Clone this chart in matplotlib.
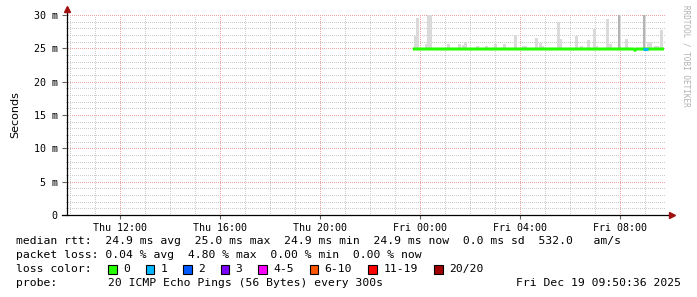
import matplotlib
matplotlib.use('Agg')
import matplotlib.pyplot as plt
from matplotlib.patches import Rectangle

# time axis in hours relative to Fri 00:00, values in ms
x_start = -14.157
x_end = 9.843
tick_pos = [-12, -8, -4, 0, 4, 8]
tick_labels = ['Thu 12:00', 'Thu 16:00', 'Thu 20:00', 'Fri 00:00', 'Fri 04:00', 'Fri 08:00']

# smoke samples (start hour, top of smoke in ms)
smoke_t = [-0.24, -0.16, 0.20, 0.29, 0.37, 1.07, 1.51, 1.69, 1.76, 2.24, 2.61, 2.96,
           3.33, 3.76, 4.07, 4.16, 4.59, 4.75, 4.84, 5.47, 5.57, 6.20, 6.40, 6.67,
           6.91, 7.00, 7.43, 7.57, 7.93, 8.20, 8.93, 9.07, 9.16, 9.36, 9.44, 9.60]
smoke_top = [26.9, 29.6, 25.6, 30.0, 30.0, 25.6, 25.6, 25.5, 25.9, 25.3, 25.3, 25.6,
             25.6, 27.0, 25.4, 25.4, 26.6, 25.85, 25.4, 28.9, 26.4, 26.9, 25.3, 26.3,
             27.9, 25.4, 29.4, 25.6, 30.0, 26.4, 30.0, 26.0, 26.0, 25.4, 25.4, 27.7]
# darker smoke (many pings high)
dark_t = [7.93, 8.93]
dark_top = [30.0, 30.0]

# median rtt
med_t = [-0.29, 8.55, 8.60, 8.65, 9.76]
med_v = [24.9, 24.9, 24.7, 24.9, 24.9]
loss1_t = [8.93, 9.10]
loss1_v = [24.9, 24.9]

loss_labels = ['0', '1', '2', '3', '4-5', '6-10', '11-19', '20/20']
loss_colors = ['#26ff00', '#00b8ff', '#0059ff', '#7e00ff', '#ff00ff', '#ff5500', '#ff0000', '#a10000']

W, H = 697, 297
fig = plt.figure(figsize=(W / 100, H / 100), dpi=100)
fig.patch.set_facecolor('white')
ax = fig.add_axes([66.1 / W, (H - 215) / H, 600 / W, 200 / H])
ax.set_xlim(x_start, x_end)
ax.set_ylim(0, 30)
for s in ax.spines.values():
    s.set_visible(False)

dot = (0, (1, 2))
# minor grid
for h in range(-14, 10):
    if h not in tick_pos:
        ax.axvline(h, color='#cccccc', lw=0.72, ls=dot, antialiased=False, zorder=0)
for v in range(1, 30):
    if v % 5:
        ax.axhline(v, color='#cccccc', lw=0.72, ls=dot, antialiased=False, zorder=0)
# major grid
for h in tick_pos:
    ax.axvline(h, color='#eca4a4', lw=0.72, ls=dot, antialiased=False, zorder=0)
for v in range(5, 31, 5):
    ax.axhline(v, color='#eca4a4', lw=0.72, ls=dot, antialiased=False, zorder=0)

w = 0.11
for t, top in zip(smoke_t, smoke_top):
    ax.bar(t, top - 24.9, bottom=24.9, width=w, align='edge', color='#dadada', lw=0, zorder=1)
for t, top in zip(dark_t, dark_top):
    ax.bar(t, top - 24.9, bottom=24.9, width=w * 0.8, align='edge', color='#b4b4b4', lw=0, zorder=1)

ax.plot(med_t, med_v, color=loss_colors[0], lw=2.2, zorder=3, solid_capstyle='butt')
ax.plot(loss1_t, loss1_v, color=loss_colors[1], lw=2.2, zorder=4, solid_capstyle='butt')

# axes lines and arrows
ax.plot([0.0015, 0.0015], [0, 1.03], transform=ax.transAxes, color='black', lw=0.9, clip_on=False, zorder=5)
ax.plot([-0.006, 1.006], [0, 0], transform=ax.transAxes, color='black', lw=0.9, clip_on=False, zorder=5)
ax.plot([0.0015], [1.03], transform=ax.transAxes, marker='^', color='#a01010', ms=4, clip_on=False, zorder=6)
ax.plot([1.009], [0], transform=ax.transAxes, marker='>', color='#a01010', ms=4, clip_on=False, zorder=6)

mono = 'DejaVu Sans Mono'
ax.set_xticks(tick_pos)
ax.set_xticklabels(tick_labels, family=mono, fontsize=7.2)
ax.set_yticks(range(0, 31, 5))
ax.set_yticklabels(['0'] + ['%d m' % v for v in range(5, 31, 5)], family=mono, fontsize=7.2)
ax.tick_params(axis='both', length=3, width=0.8, color='#606060', pad=3)
ax.set_ylabel('Seconds', family='DejaVu Sans', fontsize=8, labelpad=10)

fig.text(686 / W, 1 - 5 / H, 'RRDTOOL / TOBI OETIKER', rotation=270, va='top', ha='center',
         family=mono, fontsize=5.5, color='#b0b0b0')

fs = 8.2
cw = 7.05
x0 = 16
lines_y = [241, 255, 269, 283]
fig.text(x0 / W, 1 - lines_y[0] / H,
         'median rtt:  24.9 ms avg  25.0 ms max  24.9 ms min  24.9 ms now  0.0 ms sd  532.0   am/s',
         family=mono, fontsize=fs, va='center')
fig.text(x0 / W, 1 - lines_y[1] / H,
         'packet loss: 0.04 % avg  4.80 % max  0.00 % min  0.00 % now',
         family=mono, fontsize=fs, va='center')
fig.text(x0 / W, 1 - lines_y[2] / H, 'loss color:', family=mono, fontsize=fs, va='center')
bx = 108.4
for lab, col in zip(loss_labels, loss_colors):
    fig.patches.append(Rectangle((bx / W, 1 - (lines_y[2] + 4.5) / H), 8.5 / W, 9 / H,
                                 transform=fig.transFigure, facecolor=col, edgecolor='black', lw=0.8))
    tx = bx + 14.8
    fig.text(tx / W, 1 - lines_y[2] / H, lab, family=mono, fontsize=fs, va='center')
    bx = tx + len(lab) * cw + 15.6
fig.text(x0 / W, 1 - lines_y[3] / H, 'probe:', family=mono, fontsize=fs, va='center')
fig.text(107.6 / W, 1 - lines_y[3] / H, '20 ICMP Echo Pings (56 Bytes) every 300s',
         family=mono, fontsize=fs, va='center')
fig.text(681 / W, 1 - lines_y[3] / H, 'Fri Dec 19 09:50:36 2025',
         family=mono, fontsize=fs, va='center', ha='right')

fig.savefig('out.png', dpi=100, facecolor='white')
